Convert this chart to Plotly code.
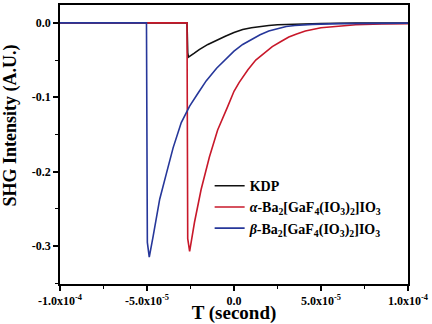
import plotly.graph_objects as go

# ---- data ----
kdp_t = [-1.0e-4, -2.70e-5, -2.66e-5, -2.62e-5, -2.3e-5, -2.0e-5, -1.5e-5, -1.0e-5, -0.5e-5, 0.0,
         0.5e-5, 1.0e-5, 1.5e-5, 2.0e-5, 2.5e-5, 3.5e-5, 5.0e-5, 7.0e-5, 1.0e-4]
kdp_v = [0.0, 0.0, -0.040, -0.046, -0.041, -0.036, -0.029, -0.023, -0.018, -0.013,
         -0.009, -0.0065, -0.0048, -0.0035, -0.0025, -0.0015, -0.0008, -0.0004, -0.0002]

alpha_t = [-1.0e-4, -2.70e-5, -2.66e-5, -2.55e-5, -2.27e-5, -1.89e-5, -1.41e-5, -0.94e-5, -0.37e-5, 0.0,
           0.3e-5, 0.8e-5, 1.25e-5, 1.7e-5, 2.2e-5, 2.7e-5, 3.15e-5, 3.6e-5, 4.1e-5, 5.0e-5,
           6.0e-5, 7.0e-5, 8.5e-5, 1.0e-4]
alpha_v = [0.0, 0.0, -0.29, -0.307, -0.268, -0.224, -0.180, -0.144, -0.113, -0.092,
           -0.080, -0.063, -0.050, -0.041, -0.032, -0.025, -0.019, -0.015, -0.011, -0.0065,
           -0.004, -0.0025, -0.0015, -0.001]

beta_t = [-1.0e-4, -5.03e-5, -4.98e-5, -4.87e-5, -4.64e-5, -4.27e-5, -3.88e-5, -3.5e-5, -3.03e-5, -2.55e-5,
          -2.08e-5, -1.6e-5, -1.0e-5, -0.5e-5, 0.0, 0.5e-5, 1.0e-5, 1.5e-5, 2.0e-5, 2.5e-5,
          3.0e-5, 3.5e-5, 4.5e-5, 6.0e-5, 8.0e-5, 1.0e-4]
beta_v = [0.0, 0.0, -0.295, -0.315, -0.286, -0.237, -0.202, -0.168, -0.134, -0.112,
          -0.095, -0.078, -0.061, -0.049, -0.038, -0.029, -0.022, -0.016, -0.011, -0.0075,
          -0.005, -0.0035, -0.002, -0.001, -0.0005, -0.0003]

series_names = ["KDP",
                "<i>α</i>-Ba<sub>2</sub>[GaF<sub>4</sub>(IO<sub>3</sub>)<sub>2</sub>]IO<sub>3</sub>",
                "<i>β</i>-Ba<sub>2</sub>[GaF<sub>4</sub>(IO<sub>3</sub>)<sub>2</sub>]IO<sub>3</sub>"]
series_colors = ["#111111", "#c8182a", "#26379a"]

x_tickvals = [-1.0e-4, -5.0e-5, 0.0, 5.0e-5, 1.0e-4]
x_ticktext = ["-1.0x10<sup>-4</sup>", "-5.0x10<sup>-5</sup>", "0.0", "5.0x10<sup>-5</sup>", "1.0x10<sup>-4</sup>"]
y_tickvals = [-0.3, -0.2, -0.1, 0.0]
y_ticktext = ["-0.3", "-0.2", "-0.1", "0.0"]

x_title = "T (second)"
y_title = "SHG Intensity (A.U.)"

FONT = "'Liberation Serif', 'Times New Roman', Times, 'DejaVu Serif', serif"

fig = go.Figure()
for t, v, name, col in zip([kdp_t, alpha_t, beta_t], [kdp_v, alpha_v, beta_v], series_names, series_colors):
    fig.add_trace(go.Scatter(x=t, y=v, mode="lines", name=name,
                             line=dict(color=col, width=1.6)))

axis_common = dict(showline=True, linecolor="black", linewidth=1.5, mirror=True,
                   ticks="outside", ticklen=5, tickwidth=1.5, tickcolor="black",
                   showgrid=False, zeroline=False,
                   tickfont=dict(family=FONT, size=12, color="black", weight="bold"))

fig.update_xaxes(range=[-1.0e-4, 1.0e-4], tickvals=x_tickvals, ticktext=x_ticktext,
                 minor=dict(ticks="outside", ticklen=3, tickwidth=1.2, tickcolor="black", dtick=2.5e-5),
                 title=dict(text=x_title, standoff=0,
                            font=dict(family=FONT, size=19, color="black", weight="bold")),
                 **axis_common)
fig.update_yaxes(range=[-0.351, 0.024], tickvals=y_tickvals, ticktext=y_ticktext,
                 minor=dict(ticks="outside", ticklen=3, tickwidth=1.2, tickcolor="black", dtick=0.05),
                 **axis_common)

fig.add_annotation(text=y_title, xref="paper", yref="paper", x=-0.143, y=0.569,
                   xanchor="center", yanchor="middle", textangle=-90, showarrow=False,
                   font=dict(family=FONT, size=18, color="black", weight="bold"))

fig.update_layout(
    width=432, height=324,
    margin=dict(l=60, r=22, t=3, b=38),
    paper_bgcolor="white", plot_bgcolor="white",
    font=dict(family=FONT, color="black", weight="bold"),
    legend=dict(x=0.43, y=0.408, xanchor="left", yanchor="top",
                bgcolor="rgba(0,0,0,0)", borderwidth=0,
                font=dict(family=FONT, size=14, color="black", weight="bold"),
                tracegroupgap=0, itemwidth=30),
    showlegend=True,
)

fig.write_html("out.html")
